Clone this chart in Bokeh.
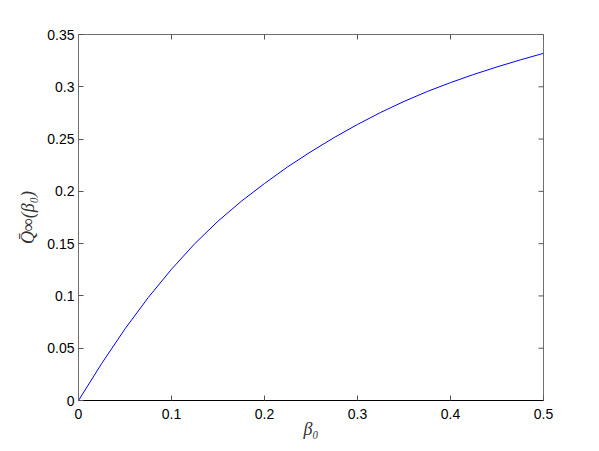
import math
from bokeh.plotting import figure
from bokeh.models import Range1d, FixedTicker
from bokeh.embed import file_html
from bokeh.resources import INLINE

# data
beta0 = [0.0, 0.025, 0.05, 0.075, 0.1, 0.125, 0.15, 0.175, 0.2, 0.225, 0.25,
         0.275, 0.3, 0.325, 0.35, 0.375, 0.4, 0.425, 0.45, 0.475, 0.5]
q_inf = [0.0, 0.0355, 0.0685, 0.0985, 0.1255, 0.150, 0.1715, 0.1905, 0.2075, 0.2235, 0.238,
         0.2515, 0.264, 0.2755, 0.286, 0.2955, 0.304, 0.3118, 0.319, 0.3257, 0.332]

x_ticks = [0.0, 0.1, 0.2, 0.3, 0.4, 0.5]
x_tick_labels = ["0", "0.1", "0.2", "0.3", "0.4", "0.5"]
y_ticks = [0.0, 0.05, 0.1, 0.15, 0.2, 0.25, 0.3, 0.35]
y_tick_labels = ["0", "0.05", "0.1", "0.15", "0.2", "0.25", "0.3", "0.35"]

X0, X1 = 0.0, 0.5
Y0, Y1 = 0.0, 0.35

p = figure(width=599, height=451, output_backend="svg", toolbar_location=None,
           x_range=Range1d(X0, X1), y_range=Range1d(Y0, Y1),
           min_border_left=78, min_border_right=56, min_border_top=34, min_border_bottom=51)
p.grid.visible = False
p.outline_line_color = "#6f6f6f"
p.outline_line_width = 1
p.background_fill_color = "white"
p.border_fill_color = "white"

p.line(beta0, q_inf, line_color="#0000FF", line_width=1)

# mirrored inner ticks on top and right edges (clipped to the frame)
p.scatter(x_ticks, [Y1] * len(x_ticks), marker="dash", size=10, angle=math.pi / 2,
          line_color="#555555", line_width=1)
p.scatter([X1] * len(y_ticks), y_ticks, marker="dash", size=10,
          line_color="#555555", line_width=1)

label_font = "Liberation Sans"

p.xaxis.ticker = FixedTicker(ticks=x_ticks)
p.xaxis.major_label_overrides = {t: l for t, l in zip(x_ticks, x_tick_labels)}
p.yaxis.ticker = FixedTicker(ticks=y_ticks)
p.yaxis.major_label_overrides = {t: l for t, l in zip(y_ticks, y_tick_labels)}

for ax in (p.xaxis[0], p.yaxis[0]):
    ax.major_tick_in = 5
    ax.major_tick_out = 0
    ax.minor_tick_line_color = None
    ax.major_label_text_font = label_font
    ax.major_label_text_font_size = "14px"
    ax.major_label_text_color = "black"
    ax.axis_label_text_font = "Liberation Serif"
    ax.axis_label_text_font_style = "italic"
    ax.axis_label_text_font_size = "18px"
    ax.axis_label_text_color = "#333333"

p.xaxis.axis_line_color = "black"
p.xaxis.major_tick_line_color = "#555555"
p.xaxis.major_label_standoff = 8
p.yaxis.axis_line_color = "#6f6f6f"
p.yaxis.major_tick_line_color = "#555555"
p.yaxis.major_label_standoff = 4
p.xaxis.axis_label = "β₀"
p.xaxis.axis_label_standoff = -3
p.yaxis.axis_label = "Q\u0304∞(β₀)"
p.yaxis.axis_label_standoff = 6

open("out.html", "w").write(file_html(p, INLINE))
